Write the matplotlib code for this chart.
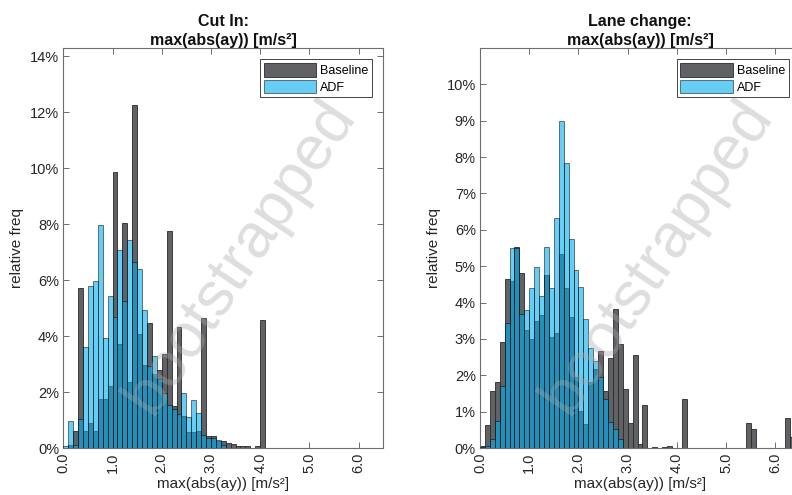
import matplotlib
matplotlib.use("Agg")
import matplotlib.pyplot as plt
import numpy as np

plt.rcParams['font.family'] = ['Liberation Sans', 'DejaVu Sans']

# histogram bins: 0.1 m/s² wide, starting at 0
bin_width = 0.1

# Cut In: relative frequency per bin [%]
cutin_baseline = [0.0, 0.10, 0.61, 5.71, 0.62, 0.90, 0.62, 1.75, 1.75, 2.20,
                  9.86, 3.73, 8.04, 2.35, 12.27, 4.06, 2.95, 4.48, 2.65, 2.77,
                  3.37, 7.77, 1.50, 4.32, 1.13, 0.57, 0.57, 0.60, 4.65, 0.42,
                  0.42, 0.25, 0.25, 0.18, 0.15, 0.08, 0.07, 0.07, 0.0, 0.07,
                  4.58]
cutin_adf = [0.07, 0.97, 0.12, 1.05, 3.60, 5.80, 5.95, 7.98, 3.94, 5.42,
             4.68, 7.06, 5.24, 7.43, 6.64, 6.39, 4.92, 2.93, 3.27, 2.48,
             1.96, 1.54, 1.40, 1.20, 1.98, 1.10, 1.70, 1.26, 0.45, 0.36,
             0.37, 0.30, 0.10]

# Lane change: relative frequency per bin [%]
lanechange_baseline = [0.06, 0.63, 1.58, 1.81, 2.91, 4.64, 4.60, 5.53, 4.80, 3.25,
                       2.99, 3.50, 3.65, 4.76, 3.06, 3.17, 5.33, 4.39, 3.60, 1.96,
                       1.03, 0.66, 1.82, 2.17, 2.67, 1.57, 2.47, 3.82, 2.87, 1.63,
                       0.68, 2.56, 0.10, 1.17, 0.0, 0.03, 0.0, 0.03, 0.06, 0.0,
                       0.0, 1.34, 0.0, 0.0, 0.0, 0.0, 0.0, 0.0, 0.0, 0.0,
                       0.0, 0.0, 0.0, 0.0, 0.68, 0.53, 0.0, 0.0, 0.0, 0.0,
                       0.0, 0.0, 0.83, 0.31]
lanechange_adf = [0.04, 0.06, 0.25, 0.74, 1.71, 3.45, 5.49, 5.51, 3.69, 3.80,
                  4.41, 4.99, 4.17, 5.52, 4.39, 6.33, 9.00, 7.85, 5.74, 4.90,
                  4.44, 3.56, 2.76, 2.38, 1.94, 1.35, 0.72, 0.51, 0.24]

xticks = [0, 1, 2, 3, 4, 5, 6]

col_base = '#616266'
col_adf = '#00aeef'
txt_col = '#262626'
axis_col = '#6e6e6e'


def draw_hist(ax, baseline, adf, ymax, ytop, ystep, title):
    xb = np.arange(len(baseline)) * bin_width
    xa = np.arange(len(adf)) * bin_width
    ax.bar(xb, baseline, width=bin_width, align='edge', color=col_base,
           edgecolor='#2a2a2a', linewidth=0.6, label='Baseline', zorder=2)
    ax.bar(xa, adf, width=bin_width, align='edge', color=col_adf, alpha=0.6,
           edgecolor='#000000', linewidth=0.6, label='ADF', zorder=3)

    ax.set_xlim(0, 6.5)
    ax.set_ylim(0, ymax)
    ax.set_xticks(xticks)
    ax.set_xticklabels(['%.1f' % v for v in xticks], rotation=90)
    yt = np.arange(0, ytop + 0.01, ystep)
    ax.set_yticks(yt)
    ax.set_yticklabels(['%d%%' % v for v in yt])
    ax.tick_params(direction='in', top=True, right=True, length=4,
                   width=0.7, color=axis_col, labelsize=10.5,
                   labelcolor=txt_col, pad=3)
    for s in ax.spines.values():
        s.set_color(axis_col)
        s.set_linewidth(0.8)

    ax.set_title(title, fontsize=11.5, fontweight='bold', color='#111111',
                 pad=2, linespacing=1.35)
    ax.set_xlabel('max(abs(ay)) [m/s²]', fontsize=11, color=txt_col, labelpad=3)
    ax.set_ylabel('relative freq', fontsize=11, color=txt_col, labelpad=4)

    leg = ax.legend(loc='upper right', fontsize=9, fancybox=False,
                    framealpha=1, edgecolor='#444444', handlelength=4.2,
                    handleheight=1.3, borderpad=0.3, labelspacing=0.2,
                    handletextpad=0.3, borderaxespad=0.9)
    leg.get_frame().set_linewidth(0.7)
    leg.set_zorder(6)

    # faint watermark over the bars
    ax.text(0.555, 0.48, 'bootstrapped', transform=ax.transAxes,
            fontsize=45, color='#a8a8ac', alpha=0.38, rotation=56,
            ha='center', va='center', zorder=5)


fig = plt.figure(figsize=(7.92, 4.95), dpi=100)
ax1 = fig.add_axes([0.0799, 0.0949, 0.4040, 0.8081])
ax2 = fig.add_axes([0.6061, 0.0949, 0.4040, 0.8081])

draw_hist(ax1, cutin_baseline, cutin_adf, 14.29, 14, 2, 'Cut In:\nmax(abs(ay)) [m/s²]')
draw_hist(ax2, lanechange_baseline, lanechange_adf, 11.0, 10, 1,
          'Lane change:\nmax(abs(ay)) [m/s²]')

fig.savefig('out.png', dpi=100)
